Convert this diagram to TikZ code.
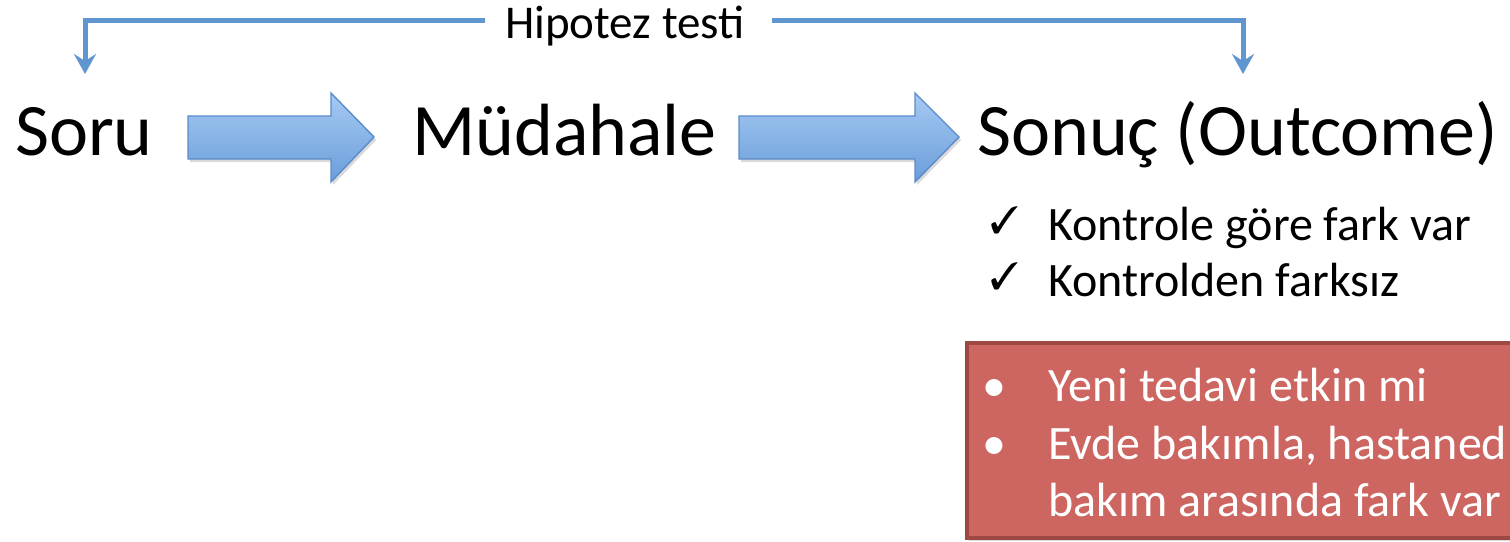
\documentclass[tikz,border=0pt]{standalone}
\usepackage{fontspec}
\setmainfont{Carlito}
\usepackage{pifont}
\usetikzlibrary{arrows.meta,shadows,calc}

\definecolor{linkblue}{HTML}{6096CF}
\definecolor{arrowtop}{HTML}{A6C9F3}
\definecolor{arrowbot}{HTML}{6A9EDA}
\definecolor{arrowedge}{HTML}{5A8CCB}
\definecolor{boxfill}{HTML}{CD6560}
\definecolor{boxedge}{HTML}{9E4843}

\tikzset{
  title/.style={inner sep=0pt, anchor=base west, font=\fontsize{74}{80}\selectfont},
  caption/.style={inner sep=0pt, anchor=base west, font=\fontsize{47}{54}\selectfont},
  item/.style={inner sep=0pt, anchor=base west, font=\fontsize{48}{54}\selectfont},
  tick/.style={inner sep=0pt, anchor=base west, font=\fontsize{38}{44}\selectfont},
  whiteitem/.style={item, text=white},
  bracket/.style={draw=linkblue, line width=5pt,
    -{Stealth[length=20pt, width=22pt, inset=7pt]}},
  blockarrow/.style={draw=arrowedge, line width=1.4pt, line join=miter,
    top color=arrowtop, bottom color=arrowbot,
    drop shadow={opacity=0.3, shadow xshift=2pt, shadow yshift=-3pt}},
  notebox/.style={draw=boxedge, line width=4pt, fill=boxfill,
    drop shadow={opacity=0.3, shadow xshift=2pt, shadow yshift=-3pt}}
}

\begin{document}
\begin{tikzpicture}[x=1pt, y=-1pt]
\useasboundingbox (0,0) rectangle (1510,541);
\clip (0,0) rectangle (1510,541);

% main chain
\node[title] (soru) at (15,155) {Soru};
\node[title] (mud) at (412,155) {Müdahale};
\node[title] (son) at (977,155) {Sonuç (Outcome)};

% block arrows between the stages
\path[blockarrow] (188,116) -- (331,116) -- (331,93) -- (374,137)
  -- (331,182) -- (331,159) -- (188,159) -- cycle;
\path[blockarrow] (739,116) -- (915,116) -- (915,93) -- (959,137)
  -- (915,182) -- (915,159) -- (739,159) -- cycle;

% hypothesis-test bracket over the chain
\node[caption] (hyp) at (505,38) {Hipotez testi};
\coordinate (hl) at (485,20);
\coordinate (hr) at (772,20);
\coordinate (soruTop) at (85,74);
\coordinate (sonTop) at (1243,74);
\draw[bracket] (hl) -| (soruTop);
\draw[bracket] (hr) -| (sonTop);

% possible outcomes
\node[tick] (t1) at (990,233) {\ding{51}};
\node[item] (o1) at (1048,240) {Kontrole göre fark var};
\node[tick] (t2) at (990,289) {\ding{51}};
\node[item] (o2) at (1048,296) {Kontrolden farksız};

% example questions
\path[notebox] (967,343) rectangle (1540,538);
\node[whiteitem] (b1) at (982,401) {•};
\node[whiteitem] (q1) at (1048,401) {Yeni tedavi etkin mi};
\node[whiteitem] (b2) at (982,459) {•};
\node[whiteitem] (q2) at (1048,459) {Evde bakımla, hastaned};
\node[whiteitem] (q3) at (1048,516) {bakım arasında fark var};
\end{tikzpicture}
\end{document}
